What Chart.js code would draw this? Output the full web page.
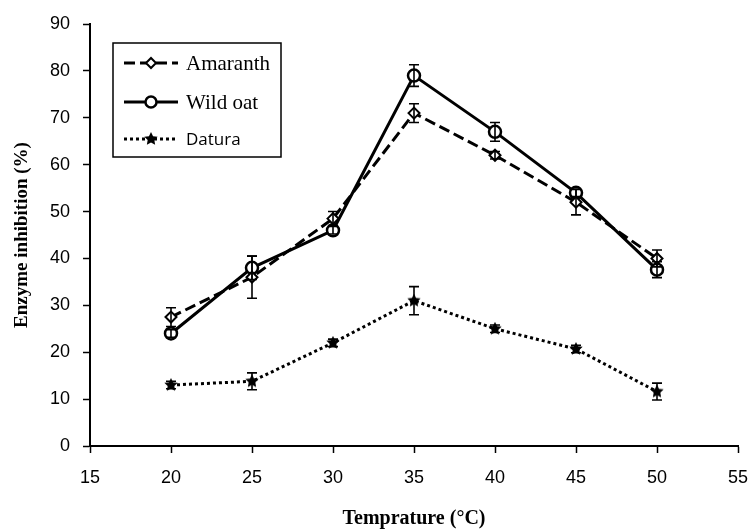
<!DOCTYPE html>
<html>
<head>
<meta charset="utf-8">
<script src="https://cdn.jsdelivr.net/npm/chart.js@4.4.0/dist/chart.umd.min.js"></script>
<style>
  html, body { margin: 0; padding: 0; background: #fff; }
</style>
</head>
<body>
<canvas id="myChart" width="750" height="529"></canvas>
<script>
// temperature (°C) and % enzyme inhibition
const temps = [20, 25, 30, 35, 40, 45, 50];
const amaranth = [27.5, 36, 48.5, 71, 62, 52, 40];
const amaranthErr = [2, 4.5, 1.5, 2, 0.8, 2.7, 1.8];
const wildOat = [24, 38, 46, 79, 67, 54, 37.6];
const wildOatErr = [0.8, 2.5, 0.8, 2.3, 2, 0.8, 1.7];
const datura = [13, 13.8, 22, 31, 25, 20.7, 11.6];
const daturaErr = [0.8, 1.8, 0.8, 3, 0.8, 0.8, 1.8];
const seriesNames = ['Amaranth', 'Wild oat', 'Datura'];
const xTitle = 'Temprature (°C)';
const yTitle = 'Enzyme inhibition (%)';

const toPoints = arr => temps.map((t, i) => ({ x: t, y: arr[i] }));

// small filled star for Datura
function makeStar(size) {
    const c = document.createElement('canvas');
    c.width = size; c.height = size;
    const g = c.getContext('2d');
    const r = size / 2, ri = r * 0.5;
    g.beginPath();
    for (let k = 0; k < 10; k++) {
        const rad = k % 2 === 0 ? r : ri;
        const a = -Math.PI / 2 + k * Math.PI / 5;
        g.lineTo(r + rad * Math.cos(a), r + rad * Math.sin(a));
    }
    g.closePath();
    g.fillStyle = '#000';
    g.fill();
    return c;
}
const starImg = makeStar(14);

const errorBars = {
    id: 'errorBars',
    afterDatasetsDraw(chart) {
        const { ctx, scales: { x, y } } = chart;
        ctx.save();
        ctx.strokeStyle = '#000';
        ctx.lineWidth = 1.6;
        chart.data.datasets.forEach(ds => {
            ds.errors.forEach((e, i) => {
                const px = x.getPixelForValue(ds.data[i].x);
                const top = y.getPixelForValue(ds.data[i].y + e);
                const bot = y.getPixelForValue(ds.data[i].y - e);
                ctx.beginPath();
                ctx.moveTo(px, top); ctx.lineTo(px, bot);
                ctx.moveTo(px - 5, top); ctx.lineTo(px + 5, top);
                ctx.moveTo(px - 5, bot); ctx.lineTo(px + 5, bot);
                ctx.stroke();
            });
        });
        ctx.restore();
    }
};

// boxed legend sitting inside the plot, like the original
const boxLegend = {
    id: 'boxLegend',
    afterDraw(chart) {
        const ctx = chart.ctx;
        ctx.save();
        ctx.strokeStyle = '#000';
        ctx.lineWidth = 1.5;
        ctx.strokeRect(113, 43, 168, 114);
        const rows = [63, 102, 139];
        const fonts = ['21px "Liberation Serif"', '21px "Liberation Serif"', '17px "Open Sans"'];
        chart.data.datasets.forEach((ds, i) => {
            const yy = rows[i];
            ctx.beginPath();
            ctx.strokeStyle = '#000';
            ctx.setLineDash(ds.borderDash || []);
            ctx.lineWidth = ds.borderWidth;
            ctx.moveTo(124, yy); ctx.lineTo(178, yy);
            ctx.stroke();
            ctx.setLineDash([]);
            ctx.fillStyle = ds.pointBackgroundColor;
            ctx.lineWidth = ds.pointBorderWidth;
            Chart.helpers.drawPoint(ctx, {
                pointStyle: ds.pointStyle,
                radius: ds.pointRadius - 0.5,
                borderWidth: ds.pointBorderWidth,
                rotation: 0
            }, 151, yy);
            ctx.fillStyle = '#000';
            ctx.font = fonts[i];
            ctx.textBaseline = 'middle';
            ctx.fillText(ds.label, 186, yy + 1);
        });
        ctx.restore();
    }
};

const ctx = document.getElementById('myChart');
new Chart(ctx, {
    type: 'line',
    data: {
        datasets: [
            {
                label: seriesNames[0],
                data: toPoints(amaranth),
                errors: amaranthErr,
                borderColor: '#000',
                borderWidth: 3,
                borderDash: [11, 5],
                pointStyle: 'rectRot',
                pointRadius: 5.5,
                pointBorderWidth: 2,
                pointBackgroundColor: '#fff',
                pointBorderColor: '#000',
                fill: false
            },
            {
                label: seriesNames[1],
                data: toPoints(wildOat),
                errors: wildOatErr,
                borderColor: '#000',
                borderWidth: 3,
                pointStyle: 'circle',
                pointRadius: 6,
                pointBorderWidth: 2.5,
                pointBackgroundColor: '#fff',
                pointBorderColor: '#000',
                fill: false
            },
            {
                label: seriesNames[2],
                data: toPoints(datura),
                errors: daturaErr,
                borderColor: '#000',
                borderWidth: 3,
                borderDash: [3, 3],
                pointStyle: starImg,
                pointRadius: 6,
                pointBorderWidth: 0,
                pointBackgroundColor: '#000',
                pointBorderColor: '#000',
                fill: false
            }
        ]
    },
    options: {
        responsive: false,
        animation: false,
        devicePixelRatio: 1,
        layout: { padding: { left: 0, top: 24, right: 0, bottom: 0 } },
        plugins: { legend: { display: false }, tooltip: { enabled: false } },
        scales: {
            x: {
                type: 'linear',
                min: 15, max: 55,
                ticks: { stepSize: 5, color: '#000', padding: 14, font: { family: 'Liberation Sans', size: 18 } },
                grid: { drawOnChartArea: false, color: '#000', tickLength: 7, tickWidth: 1.5 },
                border: { color: '#000', width: 2 },
                title: { display: true, text: xTitle, color: '#000', padding: { top: 0, bottom: 0 },
                         font: { family: 'Liberation Serif', size: 20, weight: 'bold', lineHeight: 1 } },
                afterFit(scale) { scale.height = 83; scale.paddingRight = 12; }
            },
            y: {
                min: 0, max: 90,
                ticks: { stepSize: 10, color: '#000', padding: 13, font: { family: 'Liberation Sans', size: 18 } },
                grid: { drawOnChartArea: false, color: '#000', tickLength: 7, tickWidth: 1.5 },
                border: { color: '#000', width: 2 },
                title: { display: true, text: yTitle, color: '#000', padding: { top: 13, bottom: 0 },
                         font: { family: 'Liberation Serif', size: 19, weight: 'bold', lineHeight: 1 } },
                afterFit(scale) { scale.width = 90; }
            }
        }
    },
    plugins: [errorBars, boxLegend]
});
</script>
</body>
</html>
